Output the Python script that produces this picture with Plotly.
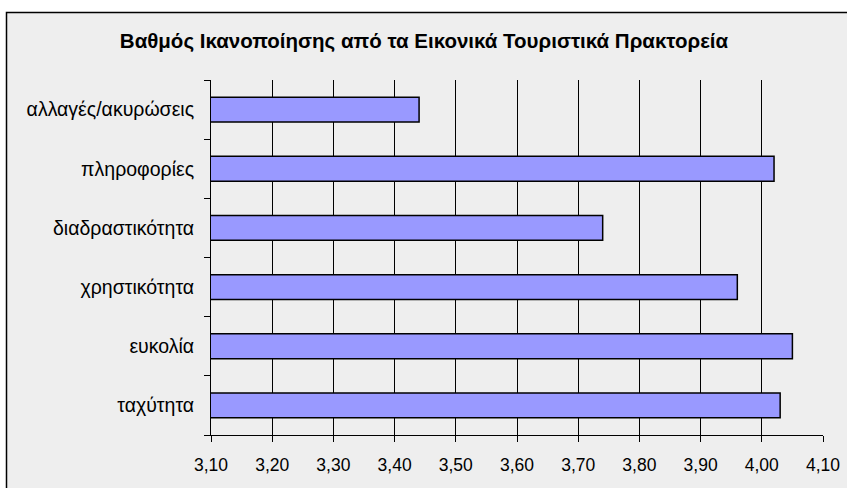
import plotly.graph_objects as go

# Satisfaction scores per feature of virtual travel agencies (bottom to top)
categories = ["ταχύτητα", "ευκολία", "χρηστικότητα", "διαδραστικότητα",
              "πληροφορίες", "αλλαγές/ακυρώσεις"]
scores = [4.03, 4.05, 3.96, 3.74, 4.02, 3.44]
x_ticks = [3.10, 3.20, 3.30, 3.40, 3.50, 3.60, 3.70, 3.80, 3.90, 4.00, 4.10]

W, H = 847, 488
L, R, T, B = 211, 24, 80, 53
pw, ph = W - L - R, H - T - B


def px_x(p):
    return (p - L) / pw


def px_y(p):
    return (H - B - p) / ph


fig = go.Figure(go.Bar(
    y=categories,
    x=scores,
    orientation="h",
    marker=dict(color="#9999FF", line=dict(color="#000000", width=1.5)),
    hoverinfo="x+y",
))

font = "Liberation Sans, Arial, sans-serif"

fig.update_layout(
    width=W, height=H,
    margin=dict(l=L, r=R, t=T, b=B, pad=0, autoexpand=False),
    paper_bgcolor="#FFFFFF",
    plot_bgcolor="rgba(0,0,0,0)",
    separators=",.",
    bargap=0.58,
    showlegend=False,
    font=dict(family=font, size=18, color="#000000"),
    title=dict(
        text="<b>Βαθμός Ικανοποίησης από τα Εικονικά Τουριστικά Πρακτορεία</b>",
        x=424 / W, xref="container", xanchor="center",
        y=1 - 41 / H, yref="container", yanchor="middle",
        font=dict(family=font, size=20.5, color="#000000"),
    ),
    xaxis=dict(
        range=[3.10, 4.10],
        tickvals=x_ticks,
        tickformat=".2f",
        automargin=False,
        showgrid=True, gridcolor="#000000", gridwidth=1,
        showline=True, linecolor="#000000", linewidth=1,
        ticks="outside", ticklen=6, tickcolor="#000000",
        zeroline=False,
        ticklabelstandoff=8,
        tickfont=dict(family=font, size=17.5, color="#000000"),
    ),
    yaxis=dict(
        categoryorder="array", categoryarray=categories,
        automargin=False,
        showgrid=False,
        showline=True, linecolor="#000000", linewidth=1,
        ticks="outside", ticklen=6, tickcolor="#000000",
        tickson="boundaries",
        ticklabelstandoff=12,
        tickfont=dict(family=font, size=19.5, color="#000000"),
    ),
    shapes=[dict(
        type="rect", xref="paper", yref="paper", layer="below",
        x0=px_x(6.5), x1=px_x(W + 20),
        y0=px_y(H + 20), y1=px_y(12.5),
        fillcolor="#EEEEEE",
        line=dict(color="#000000", width=1.5),
    )],
)

fig.write_html("out.html")
